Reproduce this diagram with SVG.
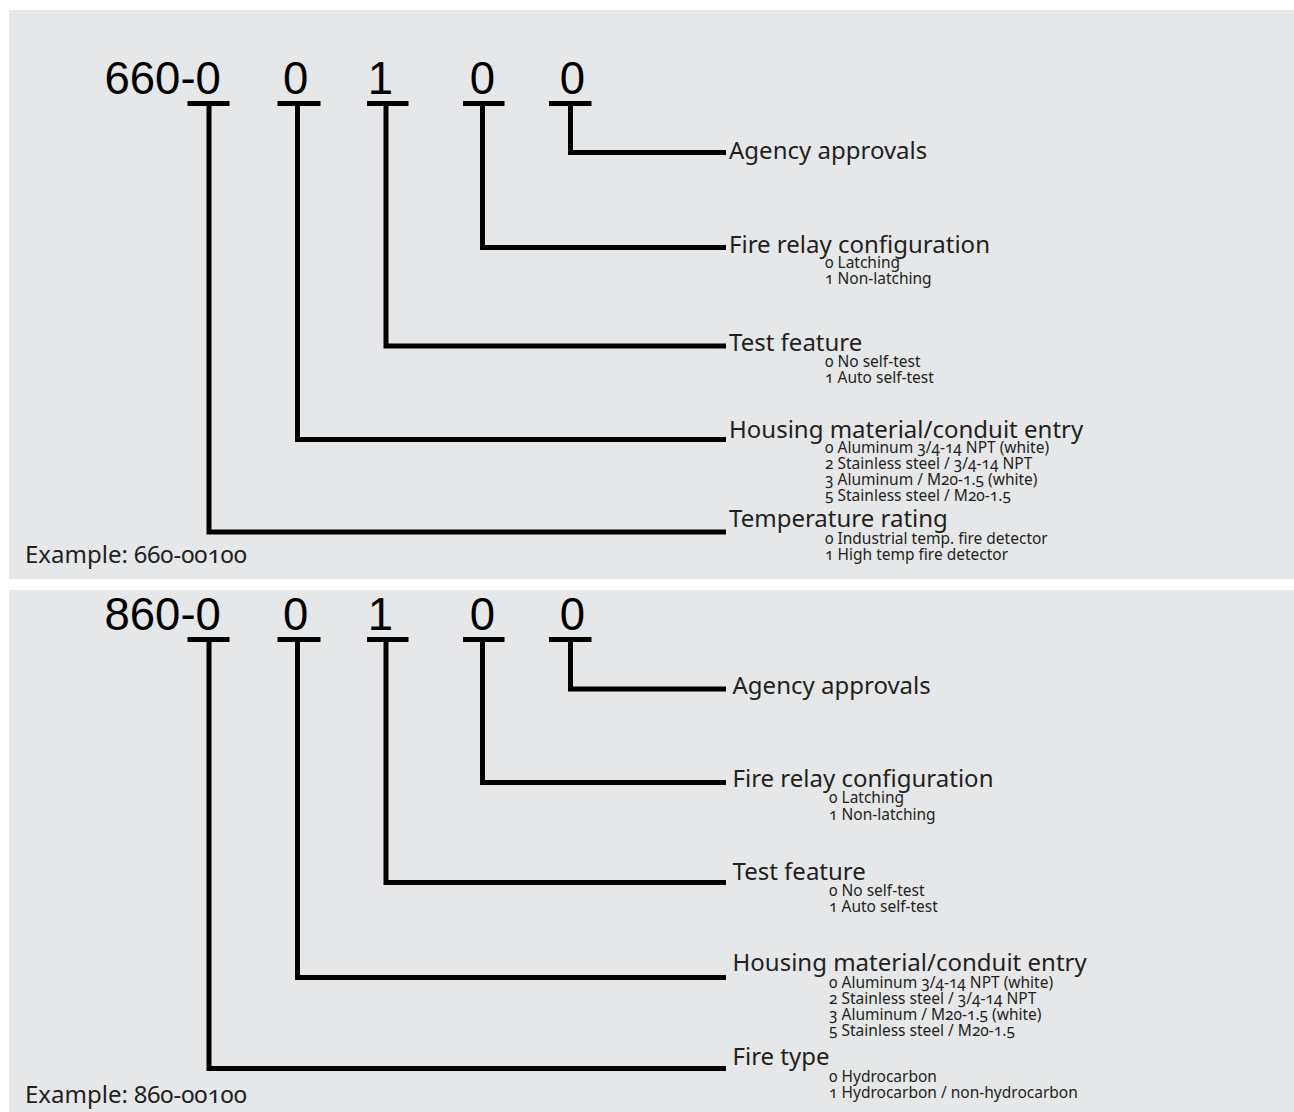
<svg xmlns="http://www.w3.org/2000/svg" width="1294" height="1112" viewBox="0 0 1294 1112">
<style>
.panel{fill:#e6e7e8}
.code{font-family:"Liberation Sans",Arial,sans-serif;font-size:45.5px;fill:#000}
.lbl{font-family:"Noto Sans","Open Sans",sans-serif;font-size:24px;fill:#231f20;font-variant-numeric:oldstyle-nums;font-feature-settings:"onum" 1}
.sub{font-family:"Noto Sans","Open Sans",sans-serif;font-size:15.5px;fill:#231f20;font-variant-numeric:oldstyle-nums;font-feature-settings:"onum" 1}
.ln{fill:none;stroke:#000;stroke-width:5;stroke-linejoin:miter;stroke-linecap:butt}
</style>
<rect width="1294" height="1112" fill="#fff"/>
<rect class="panel" x="9" y="10" width="1285" height="569"/>
<rect class="panel" x="9" y="590" width="1285" height="522"/>

<g id="connectors">
  <path class="ln" d="M187.5 103.5H229.5M277.5 103.5H320.5M367 103.5H408.5M463 103.5H504.5M549 103.5H591.5"/>
  <path class="ln" d="M209 103.5V532H726"/>
  <path class="ln" d="M297.5 103.5V439.5H726"/>
  <path class="ln" d="M386 103.5V346H726"/>
  <path class="ln" d="M482.5 103.5V247.5H726"/>
  <path class="ln" d="M570.5 103.5V152.5H726"/>
  <path class="ln" d="M187.5 639.5H229.5M277.5 639.5H320.5M367 639.5H408.5M463 639.5H504.5M549 639.5H591.5"/>
  <path class="ln" d="M209 639.5V1068.5H726"/>
  <path class="ln" d="M297.5 639.5V977.5H726"/>
  <path class="ln" d="M386 639.5V882.5H726"/>
  <path class="ln" d="M482.5 639.5V782.5H726"/>
  <path class="ln" d="M570.5 639.5V689H726"/>
</g>

<g id="code-660">
  <text class="code" x="104.5" y="94">660-0</text>
  <text class="code" x="283.1" y="94">0</text>
  <text class="code" x="367.8" y="94">1</text>
  <text class="code" x="469.8" y="94">0</text>
  <text class="code" x="559.8" y="94">0</text>
</g>
<g id="p1-agency"><text class="lbl" x="729" y="159">Agency approvals</text></g>
<g id="p1-relay">
  <text class="lbl" x="729" y="252.5">Fire relay configuration</text>
  <text class="sub" x="825" y="268">0 Latching</text>
  <text class="sub" x="825" y="284">1 Non-latching</text>
</g>
<g id="p1-test">
  <text class="lbl" x="729" y="351">Test feature</text>
  <text class="sub" x="825" y="367">0 No self-test</text>
  <text class="sub" x="825" y="383">1 Auto self-test</text>
</g>
<g id="p1-housing">
  <text class="lbl" x="729" y="437.5">Housing material/conduit entry</text>
  <text class="sub" x="825" y="453">0 Aluminum 3/4-14 NPT (white)</text>
  <text class="sub" x="825" y="469">2 Stainless steel / 3/4-14 NPT</text>
  <text class="sub" x="825" y="485">3 Aluminum / M20-1.5 (white)</text>
  <text class="sub" x="825" y="501">5 Stainless steel / M20-1.5</text>
</g>
<g id="p1-temp">
  <text class="lbl" x="729" y="527">Temperature rating</text>
  <text class="sub" x="825" y="543.5">0 Industrial temp. fire detector</text>
  <text class="sub" x="825" y="559.5">1 High temp fire detector</text>
</g>
<g id="p1-example"><text class="lbl" x="25" y="562.5">Example: 660-00100</text></g>

<g id="code-860">
  <text class="code" x="104.5" y="630">860-0</text>
  <text class="code" x="283.1" y="630">0</text>
  <text class="code" x="367.8" y="630">1</text>
  <text class="code" x="469.8" y="630">0</text>
  <text class="code" x="559.8" y="630">0</text>
</g>
<g id="p2-agency"><text class="lbl" x="732.5" y="693.5">Agency approvals</text></g>
<g id="p2-relay">
  <text class="lbl" x="732.5" y="787">Fire relay configuration</text>
  <text class="sub" x="829" y="803">0 Latching</text>
  <text class="sub" x="829" y="819.5">1 Non-latching</text>
</g>
<g id="p2-test">
  <text class="lbl" x="732.5" y="879.5">Test feature</text>
  <text class="sub" x="829" y="896">0 No self-test</text>
  <text class="sub" x="829" y="912">1 Auto self-test</text>
</g>
<g id="p2-housing">
  <text class="lbl" x="732.5" y="971">Housing material/conduit entry</text>
  <text class="sub" x="829" y="988">0 Aluminum 3/4-14 NPT (white)</text>
  <text class="sub" x="829" y="1004">2 Stainless steel / 3/4-14 NPT</text>
  <text class="sub" x="829" y="1020">3 Aluminum / M20-1.5 (white)</text>
  <text class="sub" x="829" y="1036">5 Stainless steel / M20-1.5</text>
</g>
<g id="p2-firetype">
  <text class="lbl" x="732.5" y="1064.5">Fire type</text>
  <text class="sub" x="829" y="1082">0 Hydrocarbon</text>
  <text class="sub" x="829" y="1098">1 Hydrocarbon / non-hydrocarbon</text>
</g>
<g id="p2-example"><text class="lbl" x="25" y="1102.5">Example: 860-00100</text></g>
</svg>
